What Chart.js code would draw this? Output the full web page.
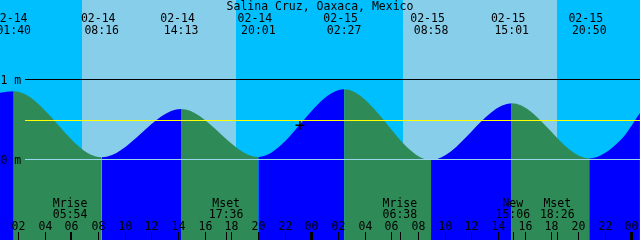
<!DOCTYPE html>
<html>
<head>
<meta charset="utf-8">
<script src="https://cdn.jsdelivr.net/npm/chart.js@4.4.0/dist/chart.umd.min.js"></script>
<style>
    html, body { margin: 0; padding: 0; background: #00bfff; }
    canvas { display: block; }
</style>
</head>
<body>
<canvas id="tide" width="640" height="240"></canvas>
<script>
const stationName = 'Salina Cruz, Oaxaca, Mexico';

// Tide extremes (high / low)
const tideDates = ['02-14', '02-14', '02-14', '02-14', '02-15', '02-15', '02-15', '02-15'];
const tideTimes = ['01:40', '08:16', '14:13', '20:01', '02:27', '08:58', '15:01', '20:50'];
const tideLevels = [0.85, 0.025, 0.63, 0.03, 0.875, -0.01, 0.70, 0.01];

// Water level read at the window edges
const edgeDates = ['02-14', '02-15', '02-15'];
const edgeTimes = ['00:38', '23:11', '24:38'];
const edgeLevels = [0.83, 0.24, 0.58];

// Daylight
const sunriseDates = ['02-14', '02-15'];
const sunriseTimes = ['06:48', '06:50'];
const sunsetDates = ['02-14', '02-15'];
const sunsetTimes = ['18:22', '18:27'];

// Moon events
const moonNames = ['Mrise', 'Mset', 'Mrise', 'New', 'Mset'];
const moonDates = ['02-14', '02-14', '02-15', '02-15', '02-15'];
const moonTimes = ['05:54', '17:36', '06:38', '15:06', '18:26'];

// Hour axis
const hourLabels = ['02', '04', '06', '08', '10', '12', '14', '16', '18', '20', '22', '00'];
const axisDays = ['02-14', '02-15'];

// Level lines and labels
const levelValues = [1, 0.49, 0];
const levelLabels = ['1 m', '', '0 m'];

// Current time marker
const nowDate = '02-14';
const nowTime = '23:08';
const nowLevel = 0.425;

const VIEW_START = 0.64;   // hours after 02-14 00:00
const VIEW_END = 48.64;
const Y_MIN = -1.009;
const Y_MAX = 1.991;

const NIGHT = '#00bfff';
const DAY = '#87ceeb';
const RISING = '#0000ff';
const FALLING = '#2e8b57';
const LEVEL_COLORS = ['#000000', '#ffff00', '#9ad6ee'];
const FONT = '11.5px "DejaVu Sans Mono", "Liberation Mono", monospace';

function toHours(date, time) {
    const day = parseInt(date.slice(3), 10) - 14;
    const [hh, mm] = time.split(':').map(Number);
    return day * 24 + hh + mm / 60;
}

const curve = [];
tideTimes.forEach((t, i) => curve.push({ x: toHours(tideDates[i], t), y: tideLevels[i] }));
edgeTimes.forEach((t, i) => curve.push({ x: toHours(edgeDates[i], t), y: edgeLevels[i] }));
curve.sort((a, b) => a.x - b.x);

const tidePlot = {
    id: 'tidePlot',
    beforeDatasetsDraw(chart) {
        const { ctx, chartArea: a, scales: { x } } = chart;
        ctx.save();
        ctx.fillStyle = NIGHT;
        ctx.fillRect(a.left, a.top, a.width, a.height);
        ctx.fillStyle = DAY;
        sunriseTimes.forEach((t, i) => {
            const x0 = x.getPixelForValue(toHours(sunriseDates[i], t));
            const x1 = x.getPixelForValue(toHours(sunsetDates[i], sunsetTimes[i]));
            ctx.fillRect(Math.round(x0), a.top, Math.round(x1) - Math.round(x0), a.height);
        });
        ctx.restore();
    },
    afterDatasetsDraw(chart) {
        const { ctx, chartArea: a, scales: { x, y } } = chart;
        ctx.save();
        ctx.font = FONT;
        ctx.textBaseline = 'alphabetic';

        // level lines
        levelValues.forEach((v, i) => {
            const py = Math.round(y.getPixelForValue(v) - 0.5);
            ctx.fillStyle = LEVEL_COLORS[i];
            ctx.fillRect(25, py, a.right - 25, 1);
            if (levelLabels[i]) {
                ctx.fillStyle = '#000';
                ctx.textAlign = 'left';
                ctx.fillText(levelLabels[i], 0.5, py + 4.5);
            }
        });

        ctx.fillStyle = '#000';

        // title
        ctx.textAlign = 'center';
        ctx.fillText(stationName, 320, 9.5);

        // tide times
        tideTimes.forEach((t, i) => {
            const px = x.getPixelForValue(toHours(tideDates[i], t));
            ctx.fillText(tideDates[i], px - 3.5, 21.7);
            ctx.fillText(t, px, 34.2);
        });

        // hour ticks
        axisDays.forEach(d => {
            hourLabels.forEach((lab, i) => {
                const h = toHours(d, '00:00') + 2 * (i + 1);
                const px = Math.round(x.getPixelForValue(h));
                if (lab === '00') ctx.fillRect(px - 1, 232, 3, 8);
                else ctx.fillRect(px, 232, 1, 8);
                ctx.fillText(lab, px + 0.5, 230);
            });
        });

        // moon events
        moonNames.forEach((name, i) => {
            const px = x.getPixelForValue(toHours(moonDates[i], moonTimes[i]));
            ctx.fillRect(Math.round(px), 232, 1, 8);
            ctx.fillText(name, px, 206.5);
            ctx.fillText(moonTimes[i], px, 218.2);
        });

        ctx.restore();
    }
};

new Chart(document.getElementById('tide').getContext('2d'), {
    type: 'line',
    data: {
        datasets: [{
            // current time marker
            data: [{ x: toHours(nowDate, nowTime), y: nowLevel }],
            showLine: false,
            pointStyle: 'cross',
            pointRadius: 4.5,
            borderColor: '#000',
            borderWidth: 1.5,
            order: 0
        }, {
            data: curve,
            fill: 'start',
            cubicInterpolationMode: 'monotone',
            borderColor: 'rgba(0,0,0,0)',
            borderWidth: 0,
            pointRadius: 0,
            backgroundColor: RISING,
            segment: {
                backgroundColor: c => c.p1.parsed.y >= c.p0.parsed.y ? RISING : FALLING
            },
            order: 1
        }]
    },
    options: {
        responsive: false,
        devicePixelRatio: 1,
        animation: false,
        events: [],
        layout: { padding: 0, autoPadding: false },
        plugins: { legend: { display: false }, tooltip: { enabled: false } },
        scales: {
            x: { type: 'linear', min: VIEW_START, max: VIEW_END, display: false },
            y: { type: 'linear', min: Y_MIN, max: Y_MAX, display: false }
        }
    },
    plugins: [tidePlot]
});
</script>
</body>
</html>
